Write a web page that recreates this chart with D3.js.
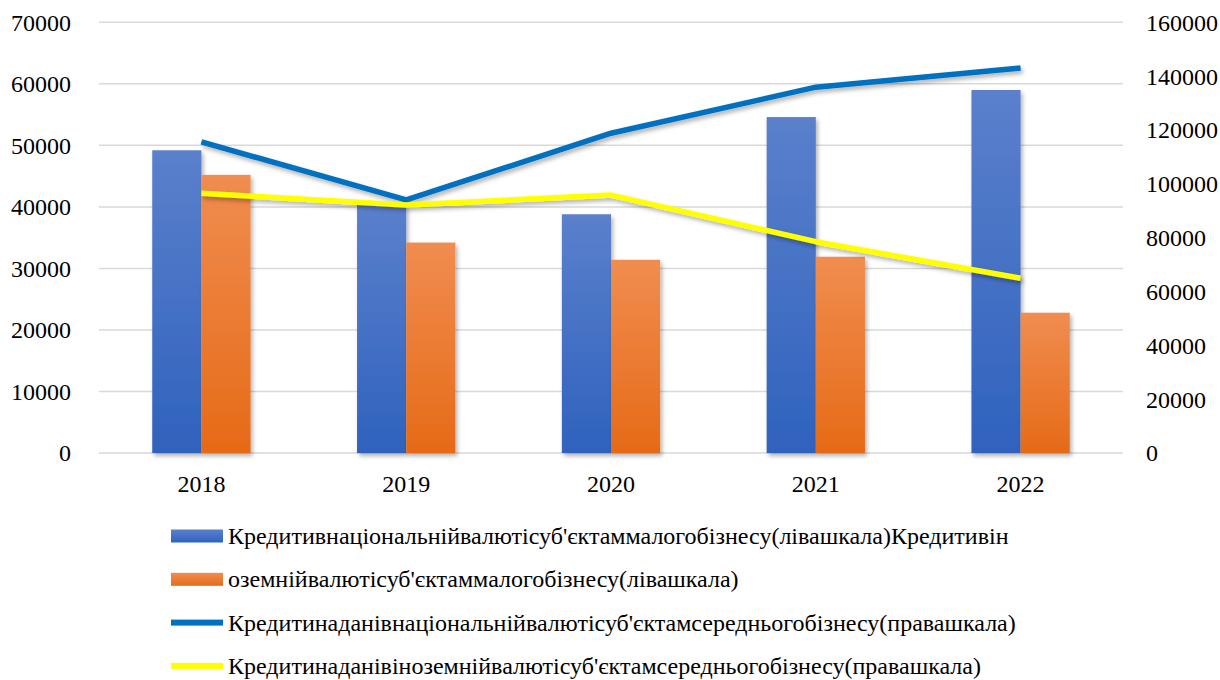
<!DOCTYPE html>
<html>
<head>
<meta charset="utf-8">
<script src="https://cdn.jsdelivr.net/npm/d3@7"></script>
</head>
<body style="margin:0; background:#fff">
<svg id="loans" width="1220" height="680"></svg>
<script>
// Loans to small and medium business, 2018–2022
const years = ["2018", "2019", "2020", "2021", "2022"];

// bars, left scale
const smallNational = [49200, 40300, 38800, 54600, 59000];
const smallForeign  = [45200, 34200, 31400, 31900, 22800];

// lines, right scale
const mediumNational = [115600, 94000, 118800, 135900, 143000];
const mediumForeign  = [96500, 92100, 95800, 78500, 64900];

const leftTicks  = [0, 10000, 20000, 30000, 40000, 50000, 60000, 70000];
const rightTicks = [0, 20000, 40000, 60000, 80000, 100000, 120000, 140000, 160000];

const legendLabels = [
  "Кредитивнаціональнійвалютісуб'єктаммалогобізнесу(лівашкала)Кредитивін",
  "оземнійвалютісуб'єктаммалогобізнесу(лівашкала)",
  "Кредитинаданівнаціональнійвалютісуб'єктамсередньогобізнесу(правашкала)",
  "Кредитинаданівіноземнійвалютісуб'єктамсередньогобізнесу(правашкала)"
];

const FONT = "Liberation Serif";

const svg = d3.select("#loans");
const plot = { left: 99, right: 1123, top: 22.3, bottom: 453 };

const defs = svg.append("defs");
function gradient(id, top, bottom) {
  const g = defs.append("linearGradient").attr("id", id)
    .attr("x1", 0).attr("y1", 0).attr("x2", 0).attr("y2", 1);
  g.append("stop").attr("offset", "0%").attr("stop-color", top);
  g.append("stop").attr("offset", "100%").attr("stop-color", bottom);
}
gradient("gBlue", "#5b80cc", "#2f62bd");
gradient("gOrange", "#f08d50", "#e66a17");

const shadow = defs.append("filter").attr("id", "shadow")
  .attr("x", "-20%").attr("y", "-20%").attr("width", "140%").attr("height", "140%");
shadow.append("feDropShadow").attr("dx", 2).attr("dy", 3)
  .attr("stdDeviation", 2.2).attr("flood-color", "#000").attr("flood-opacity", 0.3);

const x = d3.scaleBand().domain(years).range([plot.left, plot.right])
  .paddingInner(0.52).paddingOuter(0.26);
const xSub = d3.scaleBand().domain([0, 1]).range([0, x.bandwidth()]);
const yL = d3.scaleLinear().domain([0, 70000]).range([plot.bottom, plot.top]);
const yR = d3.scaleLinear().domain([0, 160000]).range([plot.bottom, plot.top]);

// gridlines
svg.append("g").selectAll("line").data(leftTicks).join("line")
  .attr("x1", plot.left).attr("x2", plot.right)
  .attr("y1", d => yL(d)).attr("y2", d => yL(d))
  .attr("stroke", "#d9d9d9").attr("stroke-width", 1.5);

function styleAxis(g, dy) {
  g.select(".domain").remove();
  g.attr("font-family", null).attr("font-size", null);
  g.selectAll("text")
    .style("font-family", FONT)
    .style("font-size", "24px")
    .attr("fill", "#000")
    .attr("dy", dy);
}

// left axis
svg.append("g").attr("transform", `translate(${plot.left},0)`)
  .call(d3.axisLeft(yL).tickValues(leftTicks).tickSize(0).tickPadding(28).tickFormat(d3.format("d")))
  .call(g => styleAxis(g, "0.33em"));

// right axis
svg.append("g").attr("transform", `translate(${plot.right},0)`)
  .call(d3.axisRight(yR).tickValues(rightTicks).tickSize(0).tickPadding(23).tickFormat(d3.format("d")))
  .call(g => styleAxis(g, "0.33em"));

// bars
const barSeries = [
  { values: smallNational, fill: "url(#gBlue)" },
  { values: smallForeign, fill: "url(#gOrange)" }
];
barSeries.forEach((s, i) => {
  svg.append("g").attr("filter", "url(#shadow)")
    .selectAll("rect").data(years).join("rect")
    .attr("x", (d) => x(d) + xSub(i))
    .attr("width", xSub.bandwidth())
    .attr("y", (d, j) => yL(s.values[j]))
    .attr("height", (d, j) => yL(0) - yL(s.values[j]))
    .attr("fill", s.fill);
});

// bottom axis
svg.append("g").attr("transform", `translate(0,${plot.bottom})`)
  .call(d3.axisBottom(x).tickSize(0).tickPadding(22))
  .call(g => styleAxis(g, "0.71em"));

// lines
const lineGen = d3.line()
  .x((d, j) => x(years[j]) + x.bandwidth() / 2)
  .y(d => yR(d));
[
  { values: mediumNational, color: "#0070c0" },
  { values: mediumForeign, color: "#ffff00" }
].forEach(s => {
  svg.append("path").datum(s.values)
    .attr("d", lineGen)
    .attr("fill", "none")
    .attr("stroke", s.color)
    .attr("stroke-width", 5.5)
    .attr("stroke-linejoin", "round")
    .attr("stroke-linecap", "butt")
    .attr("filter", "url(#shadow)");
});

// legend
const legendFills = ["url(#gBlue)", "url(#gOrange)", "#0070c0", "#ffff00"];
const legendKinds = ["bar", "bar", "line", "line"];
legendLabels.forEach((label, i) => {
  const cy = 536 + i * 43.3;
  if (legendKinds[i] === "bar") {
    svg.append("rect").attr("x", 171).attr("y", cy - 6.5).attr("width", 52).attr("height", 13)
      .attr("fill", legendFills[i]);
  } else {
    svg.append("rect").attr("x", 171).attr("y", cy - 3).attr("width", 52).attr("height", 6)
      .attr("fill", legendFills[i]);
  }
  svg.append("text").attr("x", 228).attr("y", cy + 8)
    .style("font-family", FONT).style("font-size", "24px")
    .text(label);
});
</script>
</body>
</html>
